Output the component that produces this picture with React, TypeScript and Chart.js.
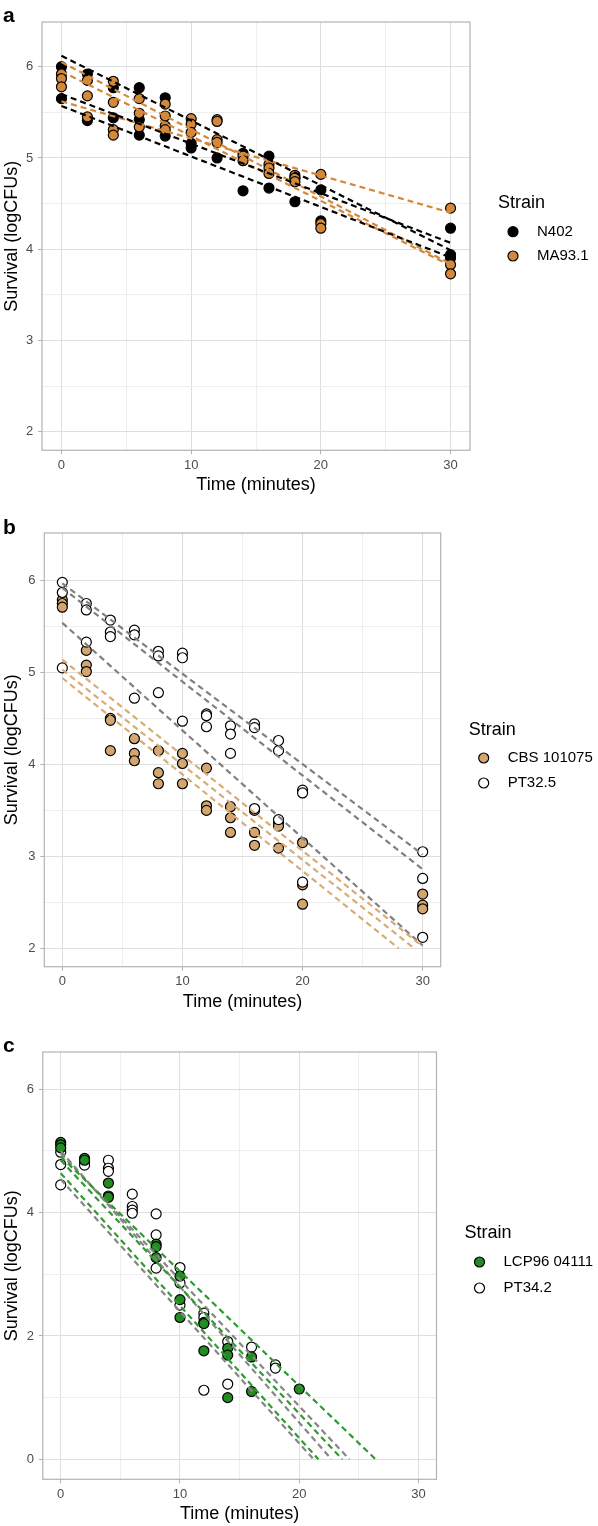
import React, { useEffect, useRef } from 'react';
import { Chart, registerables } from 'chart.js';

Chart.register(...registerables);

const FONT = "'Liberation Sans', Arial, Helvetica, sans-serif";

// ---------- Panel a ----------
const timesA = [0, 2, 4, 6, 8, 10, 12, 14, 16, 18, 20, 30];
const n402 = [
  [6.0, 5.65],
  [5.92, 5.41],
  [5.77, 5.44],
  [5.77, 5.42, 5.25],
  [5.66, 5.24],
  [5.16, 5.11],
  [5.0],
  [5.05, 4.64],
  [5.02, 4.67],
  [4.78, 4.52],
  [4.65, 4.31],
  [4.23, 3.94, 3.9],
];
const ma931 = [
  [5.92, 5.87, 5.78],
  [5.85, 5.68, 5.45],
  [5.84, 5.61, 5.31, 5.25],
  [5.65, 5.49, 5.34],
  [5.59, 5.46, 5.35, 5.31],
  [5.43, 5.37, 5.28],
  [5.42, 5.4, 5.2, 5.17],
  [5.02, 4.97],
  [4.93, 4.89, 4.83],
  [4.81, 4.78, 4.74],
  [4.82, 4.28, 4.23],
  [4.45, 3.83, 3.73],
];
// regression lines: [t start, value start, t end, value end]
const n402Fits = [
  [0, 6.12, 30, 3.99],
  [0, 5.7, 30, 4.07],
  [0, 5.57, 30, 3.91],
];
const ma931Fits = [
  [0, 6.05, 30, 3.84],
  [0, 5.95, 30, 3.82],
  [0, 5.62, 30, 4.4],
];

// ---------- Panel b ----------
const timesB = [0, 2, 4, 6, 8, 10, 12, 14, 16, 18, 20, 30];
const cbs101075 = [
  [5.79, 5.75, 5.71],
  [5.24, 5.08, 5.01],
  [4.5, 4.48, 4.15],
  [4.28, 4.12, 4.04],
  [4.15, 3.91, 3.79],
  [4.12, 4.01, 3.79],
  [3.96, 3.55, 3.5],
  [3.54, 3.42, 3.26],
  [3.5, 3.26, 3.12],
  [3.37, 3.33, 3.09],
  [3.15, 2.69, 2.48],
  [2.59, 2.47, 2.43],
];
const pt325 = [
  [5.98, 5.87, 5.05],
  [5.75, 5.68, 5.33],
  [5.57, 5.44, 5.39],
  [5.46, 5.41, 4.72],
  [5.23, 5.18, 4.78],
  [5.21, 5.16, 4.47],
  [4.55, 4.53, 4.41],
  [4.42, 4.33, 4.12],
  [4.44, 4.4, 3.52],
  [4.26, 4.15, 3.4],
  [3.72, 3.69, 2.72],
  [3.05, 2.76, 2.12],
];
const cbsFits = [
  [0, 5.14, 30, 2.02],
  [0, 5.03, 29.3, 2.0],
  [0, 4.94, 28.0, 2.0],
];
const pt325Fits = [
  [0, 5.97, 30, 3.02],
  [0, 5.92, 30, 2.86],
  [0, 5.54, 30, 2.03],
];

// ---------- Panel c ----------
const timesC = [0, 2, 4, 6, 8, 10, 12, 14, 16, 18, 20];
const lcp9604111 = [
  [5.14, 5.1, 5.05],
  [4.88, 4.85],
  [4.48, 4.27, 4.25],
  [],
  [3.49, 3.45, 3.27],
  [2.97, 2.59, 2.3],
  [2.22, 2.2, 1.76],
  [1.8, 1.69, 1.0],
  [1.66, 1.1],
  [],
  [1.14],
];
const pt342 = [
  [4.98, 4.78, 4.45],
  [4.81, 4.77],
  [4.85, 4.72, 4.67],
  [4.3, 4.1, 4.04, 3.99],
  [3.98, 3.64, 3.1],
  [3.11, 2.86, 2.5],
  [2.37, 2.3, 1.12],
  [1.91, 1.22],
  [1.82],
  [1.53, 1.48],
  [],
];
const lcpFits = [
  [0, 4.91, 26.4, 0],
  [0, 4.85, 23.6, 0],
  [0, 4.64, 21.6, 0],
];
const pt342Fits = [
  [0, 4.96, 24.2, 0],
  [0, 5.0, 22.7, 0],
  [0, 4.54, 21.2, 0],
];

// ticks
const xTicks = [0, 5, 10, 15, 20, 25, 30];
const xLabels = [0, 10, 20, 30];
const yTicksAB = [2, 2.5, 3, 3.5, 4, 4.5, 5, 5.5, 6];
const yLabelsAB = [2, 3, 4, 5, 6];
const yTicksC = [0, 1, 2, 3, 4, 5, 6];
const yLabelsC = [0, 2, 4, 6];

type Series = {
  label: string;
  times: number[];
  values: number[][];
  fits: number[][];
  fill: string;
  lineColor: string;
  pointOrder: number;
};

type PanelCfg = {
  letter: string;
  letterBase: number;
  top: number;
  height: number;
  left: number;
  right: number;
  areaTop: number;
  areaBottom: number;
  xMin: number;
  xMax: number;
  yMin: number;
  yMax: number;
  yTicks: number[];
  yLabels: number[];
  legendOff: number[];
  series: Series[];
};

const panels: PanelCfg[] = [
  {
    letter: 'a', letterBase: 21.5, top: 0, height: 500,
    left: 42, right: 470, areaTop: 22, areaBottom: 450.3,
    xMin: -1.5, xMax: 31.5, yMin: 1.796, yMax: 6.49,
    yTicks: yTicksAB, yLabels: yLabelsAB,
    legendOff: [181, 209.7, 234],
    series: [
      { label: 'N402', times: timesA, values: n402, fits: n402Fits, fill: '#000000', lineColor: '#000000', pointOrder: 2 },
      { label: 'MA93.1', times: timesA, values: ma931, fits: ma931Fits, fill: '#D4883C', lineColor: '#D4883C', pointOrder: 1 },
    ],
  },
  {
    letter: 'b', letterBase: 34, top: 500, height: 520,
    left: 44.3, right: 440.7, areaTop: 33, areaBottom: 466.7,
    xMin: -1.5, xMax: 31.5, yMin: 1.8, yMax: 6.517,
    yTicks: yTicksAB, yLabels: yLabelsAB,
    legendOff: [197, 225, 250],
    series: [
      { label: 'CBS 101075', times: timesB, values: cbs101075, fits: cbsFits, fill: '#D2A66E', lineColor: '#D8AC76', pointOrder: 2 },
      { label: 'PT32.5', times: timesB, values: pt325, fits: pt325Fits, fill: '#FFFFFF', lineColor: '#808080', pointOrder: 1 },
    ],
  },
  {
    letter: 'c', letterBase: 32, top: 1020, height: 506,
    left: 42.8, right: 436.5, areaTop: 32, areaBottom: 459.3,
    xMin: -1.5, xMax: 31.5, yMin: -0.324, yMax: 6.605,
    yTicks: yTicksC, yLabels: yLabelsC,
    legendOff: [181, 210, 236],
    series: [
      { label: 'LCP96 04111', times: timesC, values: lcp9604111, fits: lcpFits, fill: '#228B22', lineColor: '#2F9B2F', pointOrder: 1 },
      { label: 'PT34.2', times: timesC, values: pt342, fits: pt342Fits, fill: '#FFFFFF', lineColor: '#868686', pointOrder: 2 },
    ],
  },
];

const X_AXIS_H = 46;

function Panel({ cfg }: { cfg: PanelCfg }) {
  const ref = useRef<HTMLCanvasElement | null>(null);

  useEffect(() => {
    if (!ref.current) return;
    const datasets: any[] = [];
    cfg.series.forEach((s) => {
      s.fits.forEach((f) => {
        datasets.push({
          label: s.label + ' fit',
          data: [{ x: f[0], y: f[1] }, { x: f[2], y: f[3] }],
          showLine: true,
          borderColor: s.lineColor,
          borderWidth: 2.2,
          borderDash: [6, 4],
          pointRadius: 0,
          fill: false,
          order: 0,
        });
      });
    });
    cfg.series.forEach((s) => {
      const pts: { x: number; y: number }[] = [];
      s.times.forEach((t, i) => {
        (s.values[i] || []).forEach((v) => pts.push({ x: t, y: v }));
      });
      datasets.push({
        label: s.label,
        data: pts,
        showLine: false,
        backgroundColor: s.fill,
        borderColor: '#000000',
        borderWidth: 1.2,
        pointRadius: 5,
        order: s.pointOrder,
      });
    });

    const decor = {
      id: 'decor',
      afterDraw(chart: any) {
        const { ctx, chartArea: a } = chart;
        ctx.save();
        ctx.strokeStyle = '#B3B3B3';
        ctx.lineWidth = 1.2;
        ctx.strokeRect(a.left, a.top, a.right - a.left, a.bottom - a.top);
        ctx.fillStyle = '#000000';
        ctx.textAlign = 'left';
        ctx.textBaseline = 'alphabetic';
        ctx.font = `bold 21px ${FONT}`;
        ctx.fillText(cfg.letter, 3, cfg.letterBase);
        const lx = a.right + 28;
        ctx.textBaseline = 'middle';
        ctx.font = `18px ${FONT}`;
        ctx.fillText('Strain', lx, a.top + cfg.legendOff[0]);
        cfg.series.forEach((s, i) => {
          const y = a.top + cfg.legendOff[i + 1];
          ctx.beginPath();
          ctx.arc(lx + 15, y, 5, 0, Math.PI * 2);
          ctx.fillStyle = s.fill;
          ctx.fill();
          ctx.lineWidth = 1.2;
          ctx.strokeStyle = '#000000';
          ctx.stroke();
          ctx.fillStyle = '#000000';
          ctx.font = `15px ${FONT}`;
          ctx.fillText(s.label, lx + 39, y);
        });
        ctx.restore();
      },
    };

    const chart = new Chart(ref.current, {
      type: 'scatter',
      data: { datasets },
      options: {
        animation: false,
        responsive: false,
        events: [],
        layout: {
          padding: {
            left: 0,
            top: cfg.areaTop,
            right: 598 - cfg.right,
            bottom: cfg.height - cfg.areaBottom - X_AXIS_H,
          },
        },
        plugins: { legend: { display: false }, tooltip: { enabled: false } },
        scales: {
          x: {
            type: 'linear',
            min: cfg.xMin,
            max: cfg.xMax,
            afterBuildTicks: (sc: any) => {
              sc.ticks = xTicks.map((v) => ({ value: v }));
            },
            afterFit: (sc: any) => {
              sc.height = X_AXIS_H;
            },
            border: { display: false },
            grid: {
              color: (c: any) => (xLabels.includes(c.tick?.value) ? '#DEDEDE' : '#EEEEEE'),
              lineWidth: 1,
              drawTicks: true,
              tickLength: 4,
              tickColor: (c: any) => (xLabels.includes(c.tick?.value) ? '#B3B3B3' : 'rgba(0,0,0,0)'),
              tickWidth: 1,
            },
            ticks: {
              autoSkip: false,
              maxRotation: 0,
              padding: 3.4,
              color: '#4D4D4D',
              font: { family: FONT, size: 13 },
              callback: (v: any) => (xLabels.includes(v) ? String(v) : ''),
            },
            title: {
              display: true,
              text: 'Time (minutes)',
              color: '#000000',
              font: { family: FONT, size: 18 },
              padding: { top: 0, bottom: 0 },
            },
          },
          y: {
            type: 'linear',
            min: cfg.yMin,
            max: cfg.yMax,
            afterBuildTicks: (sc: any) => {
              sc.ticks = cfg.yTicks.map((v) => ({ value: v }));
            },
            afterFit: (sc: any) => {
              sc.width = cfg.left;
            },
            border: { display: false },
            grid: {
              color: (c: any) => (cfg.yLabels.includes(c.tick?.value) ? '#DEDEDE' : '#EEEEEE'),
              lineWidth: 1,
              drawTicks: true,
              tickLength: 4,
              tickColor: (c: any) => (cfg.yLabels.includes(c.tick?.value) ? '#B3B3B3' : 'rgba(0,0,0,0)'),
              tickWidth: 1,
            },
            ticks: {
              autoSkip: false,
              padding: 4.7,
              color: '#4D4D4D',
              font: { family: FONT, size: 13 },
              callback: (v: any) => (cfg.yLabels.includes(v) ? String(v) : ''),
            },
            title: {
              display: true,
              text: 'Survival (logCFUs)',
              color: '#000000',
              font: { family: FONT, size: 18 },
              padding: { top: 1.2, bottom: 0 },
            },
          },
        },
      },
      plugins: [decor],
    } as any);
    return () => chart.destroy();
  }, [cfg]);

  return (
    <canvas
      ref={ref}
      width={598}
      height={cfg.height}
      style={{ position: 'absolute', left: 0, top: cfg.top, width: 598, height: cfg.height }}
    />
  );
}

export default function App() {
  return (
    <div style={{ position: 'absolute', left: 0, top: 0, width: 598, height: 1526, background: '#FFFFFF' }}>
      {panels.map((p) => (
        <Panel key={p.letter} cfg={p} />
      ))}
    </div>
  );
}
